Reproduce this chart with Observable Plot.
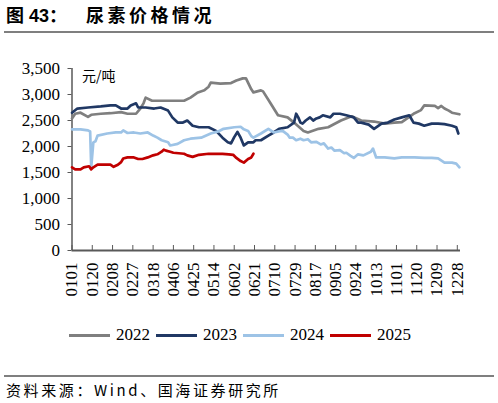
<!DOCTYPE html>
<html>
<head>
<meta charset="utf-8">
<script src="https://cdn.jsdelivr.net/npm/d3@7"></script>
<script src="https://cdn.jsdelivr.net/npm/@observablehq/plot@0.6"></script>
<style>
  body { margin: 0; background: #fff; }
  #wrap { position: relative; width: 498px; height: 403px; overflow: hidden; background: #fff; }
  .title { position: absolute; top: 1px; left: 6px; font: bold 18px "Liberation Sans", "Noto Sans CJK SC", sans-serif; white-space: nowrap; }
  .title .t2 { position: absolute; left: 80px; letter-spacing: 3.5px; }
  .rule { position: absolute; left: 4px; width: 490px; height: 2px; background: #7f7f7f; }
  #chart { position: absolute; top: 40px; left: 0; }
  #legend { position: absolute; top: 324px; left: 69px; height: 22px; display: flex; align-items: center;
            font: 17px "Liberation Serif", serif; }
  #legend .sw { display: inline-block; width: 41px; height: 3px; margin-right: 6px; }
  #legend .lb { margin-right: 6px; }
  .source { position: absolute; top: 379px; left: 6px; font: 15px "Noto Sans CJK SC", sans-serif; letter-spacing: 2.6px; white-space: nowrap; }
</style>
</head>
<body>
<div id="wrap">
  <div class="title"><span>图 43：</span><span class="t2">尿素价格情况</span></div>
  <div class="rule" style="top:31px"></div>
  <div id="chart"></div>
  <div id="legend"></div>
  <div class="rule" style="top:375px"></div>
  <div class="source">资料来源：Wind、国海证券研究所</div>
</div>
<script>
// 尿素价格 元/吨，按日期 MMDD 读数
const years = ["2022", "2023", "2024", "2025"]
const colors = ["#7f7f7f", "#203864", "#9dc3e6", "#c00000"]
const tickLabels = ["0101","0120","0208","0227","0318","0406","0425","0514","0602","0621",
  "0710","0729","0817","0905","0924","1013","1101","1120","1209","1228"]
const yTicks = [0, 500, 1000, 1500, 2000, 2500, 3000, 3500]

const s2022 = [["0101",2540],["0104",2630],["0109",2650],["0116",2570],["0119",2610],["0128",2630],["0206",2640],
  ["0216",2660],["0222",2630],["0302",2630],["0306",2730],["0309",2830],["0311",2940],["0317",2880],["0401",2880],
  ["0416",2880],["0422",2940],["0429",3040],["0505",3080],["0509",3150],["0511",3230],["0520",3210],["0530",3220],
  ["0604",3270],["0610",3310],["0613",3310],["0618",3100],["0620",3040],["0627",3080],["0629",3060],["0706",2830],
  ["0713",2600],["0722",2560],["0728",2460],["0806",2300],["0810",2270],["0820",2340],["0829",2370],["0910",2500],
  ["0920",2580],["0929",2500],["1011",2480],["1021",2440],["1030",2460],["1106",2470],["1113",2570],["1118",2640],
  ["1124",2700],["1127",2790],["1207",2780],["1210",2740],["1213",2780],["1216",2730],["1220",2690],["1223",2650],
  ["1230",2620]]

const s2023 = [["0101",2650],["0106",2730],["0116",2750],["0128",2770],["0206",2790],["0211",2790],["0216",2730],
  ["0222",2730],["0225",2790],["0302",2830],["0304",2750],["0311",2750],["0319",2730],["0325",2750],["0401",2690],
  ["0405",2560],["0410",2460],["0415",2460],["0419",2500],["0424",2400],["0430",2370],["0509",2370],["0516",2300],
  ["0522",2170],["0527",2080],["0530",2060],["0602",2180],["0605",2280],["0608",2170],["0611",2020],["0615",2080],
  ["0620",2080],["0622",2120],["0627",2120],["0704",2210],["0709",2270],["0714",2340],["0722",2370],["0728",2460],
  ["0730",2630],["0801",2560],["0803",2460],["0805",2440],["0808",2500],["0812",2560],["0815",2500],["0818",2540],
  ["0821",2560],["0824",2600],["0831",2560],["0903",2630],["0909",2630],["0915",2600],["0922",2560],["0926",2460],
  ["0929",2460],["1006",2420],["1011",2340],["1018",2440],["1024",2460],["1030",2520],["1106",2560],["1113",2600],
  ["1117",2460],["1122",2440],["1127",2400],["1204",2440],["1210",2440],["1216",2430],["1223",2400],["1227",2370],
  ["1229",2250]]

const s2024 = [["0101",2330],["0109",2330],["0116",2310],["0118",2290],["0119",1600],["0121",2080],["0123",2100],
  ["0125",2210],["0203",2250],["0211",2270],["0216",2270],["0218",2310],["0222",2260],["0228",2270],["0306",2250],
  ["0313",2270],["0318",2210],["0322",2170],["0326",2120],["0401",2080],["0403",2020],["0410",2050],["0416",2120],
  ["0422",2150],["0502",2170],["0511",2250],["0518",2290],["0523",2340],["0602",2370],["0608",2380],["0611",2330],
  ["0615",2300],["0618",2200],["0620",2170],["0627",2250],["0704",2340],["0709",2270],["0716",2300],["0718",2290],
  ["0722",2230],["0724",2170],["0727",2170],["0730",2120],["0803",2150],["0806",2120],["0810",2140],["0813",2080],
  ["0818",2090],["0822",2040],["0825",2060],["0829",1960],["0901",1980],["0904",1920],["0909",1930],["0913",1870],
  ["0915",1880],["0919",1820],["0922",1780],["0926",1850],["1001",1830],["1008",1900],["1010",1960],["1013",1790],
  ["1021",1790],["1030",1770],["1106",1790],["1112",1790],["1118",1790],["1127",1780],["1204",1780],["1210",1770],
  ["1216",1690],["1223",1690],["1227",1670],["1230",1600]]

const s2025 = [["0101",1600],["0104",1560],["0109",1560],["0112",1600],["0117",1620],["0119",1560],["0121",1600],
  ["0125",1650],["0206",1650],["0209",1610],["0213",1650],["0216",1700],["0218",1770],["0222",1790],["0228",1790],
  ["0304",1760],["0308",1760],["0313",1790],["0318",1830],["0322",1850],["0326",1900],["0328",1940],["0330",1920],
  ["0403",1900],["0406",1880],["0411",1870],["0416",1860],["0419",1830],["0424",1800],["0430",1840],["0509",1860],
  ["0522",1860],["0528",1850],["0601",1840],["0604",1780],["0608",1720],["0611",1690],["0615",1760],["0618",1790],
  ["0620",1860]]

const parseMD = d3.utcParse('%m%d')   // 1900 年，非闰年
const series = [s2022, s2023, s2024, s2025]
const data = series.flatMap((s, i) => s.map(([md, v]) => ({year: years[i], date: parseMD(md), value: v})))
const tickDates = tickLabels.map(parseMD)

let chart = Plot.plot({
  width: 498,
  height: 265,
  marginTop: 28,
  marginBottom: 55,
  marginLeft: 71.5,
  marginRight: 38,
  style: {fontFamily: '"Liberation Serif", serif', fontSize: '17px', color: '#000', background: '#fff'},
  x: {type: 'utc', domain: [parseMD('0101'), parseMD('1231')]},
  y: {domain: [0, 3500]},
  color: {domain: years, range: colors},
  marks: [
    Plot.axisY({ticks: yTicks, tickFormat: d3.format(','), tickSize: 4, tickPadding: 8, label: null, stroke: '#595959'}),
    Plot.axisX({ticks: tickDates, tickSize: -5, text: null, label: null, stroke: '#595959'}),
    Plot.axisX({ticks: tickDates, tickSize: 0, tickPadding: 12, tickRotate: -90,
      tickFormat: d3.utcFormat('%m%d'), label: null}),
    Plot.ruleY([0], {stroke: '#595959', strokeWidth: 2}),
    Plot.ruleX([parseMD('0101')], {stroke: '#595959', strokeWidth: 1.5}),
    Plot.lineY(data, {x: 'date', y: 'value', stroke: 'year', strokeWidth: 2.7, strokeLinejoin: 'round'}),
    Plot.text(['元/吨'], {frameAnchor: 'top-left', dx: 10, dy: 8, textAnchor: 'start', lineAnchor: 'middle',
      fontFamily: '"Noto Sans CJK SC", sans-serif', fontSize: 14})
  ]
})
d3.select('#chart').append(() => chart)

// 图例
const legend = d3.select('#legend')
years.forEach((y, i) => {
  legend.append('span').attr('class', 'sw').style('background', colors[i])
  legend.append('span').attr('class', 'lb').text(y)
})
</script>
</body>
</html>
